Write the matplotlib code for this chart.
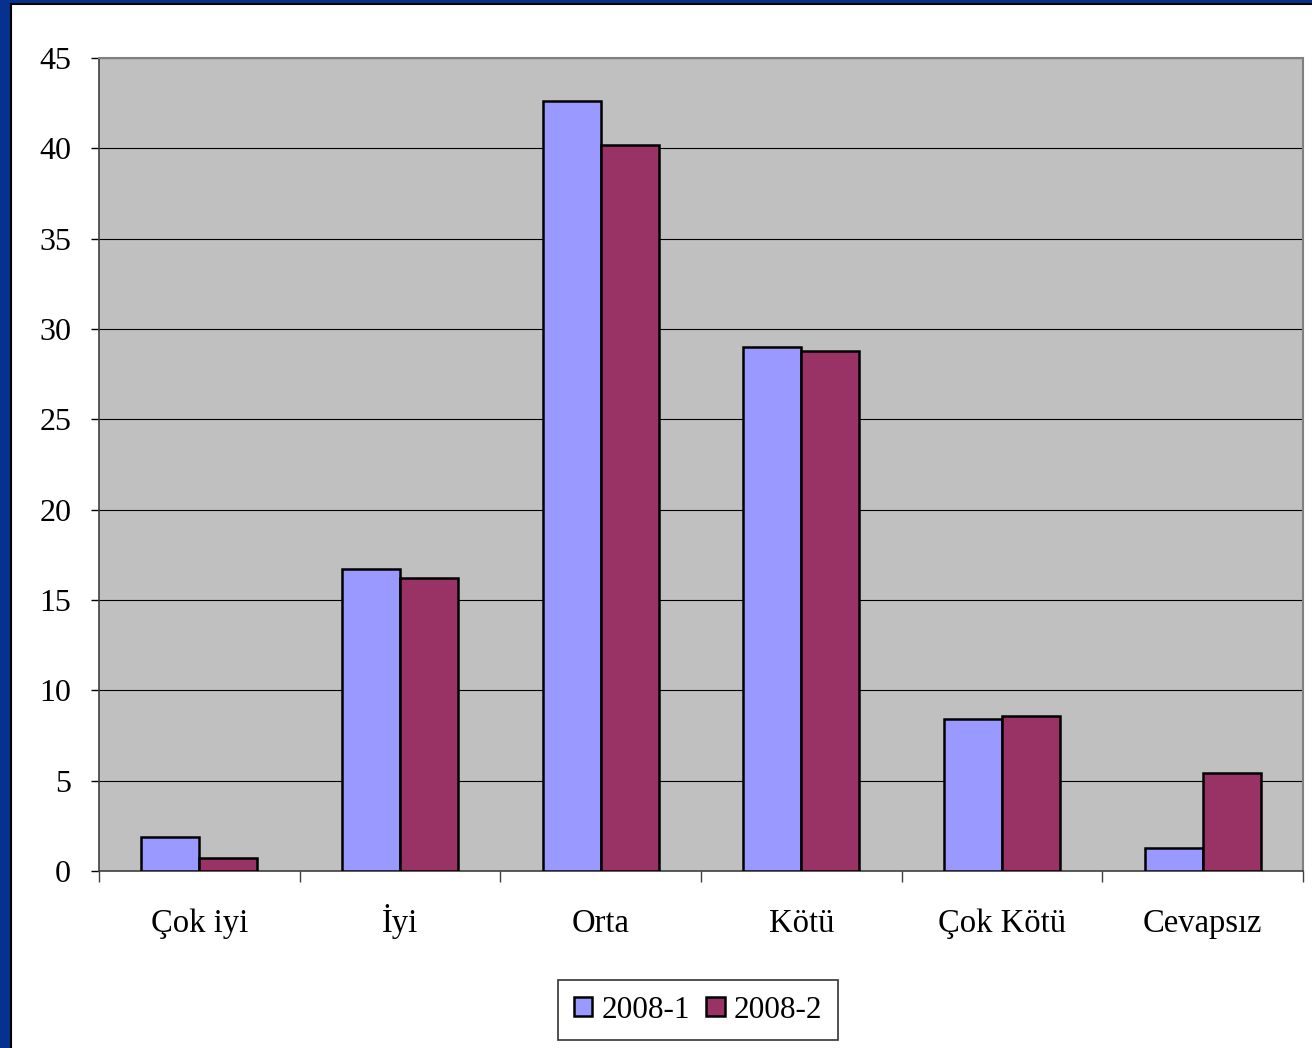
import matplotlib
matplotlib.use("Agg")
import matplotlib.pyplot as plt
import numpy as np

categories = ["Çok iyi", "İyi", "Orta", "Kötü", "Çok Kötü", "Cevapsız"]
series_names = ["2008-1", "2008-2"]
values_2008_1 = [1.9, 16.7, 42.6, 29.0, 8.4, 1.3]
values_2008_2 = [0.7, 16.2, 40.2, 28.8, 8.6, 5.4]
y_ticks = [0, 5, 10, 15, 20, 25, 30, 35, 40, 45]

W, H = 1312, 1048
plt.rcParams["font.family"] = ["Liberation Serif", "DejaVu Serif"]
fig = plt.figure(figsize=(W / 100, H / 100), dpi=100)
fig.patch.set_facecolor("#06318F")

# white chart frame (background axes)
bg = fig.add_axes([11 / W, -0.01, 1.0, 1 - 4 / H + 0.01], zorder=-5)
bg.set_facecolor("white")
bg.set_xticks([])
bg.set_yticks([])
for s in bg.spines.values():
    s.set_color("black")
    s.set_linewidth(1.5)

ax = fig.add_axes([99 / W, 1 - 871 / H, (1303 - 99) / W, (871 - 58) / H], zorder=1)
ax.set_facecolor("#C0C0C0")

x = np.arange(len(categories))
bw = 0.289
ax.bar(x - bw / 2, values_2008_1, width=bw, color="#9999FF", edgecolor="black",
       linewidth=1.8, label=series_names[0], zorder=3)
ax.bar(x + bw / 2, values_2008_2, width=bw, color="#993366", edgecolor="black",
       linewidth=1.8, label=series_names[1], zorder=3)

ax.set_xlim(-0.5, len(categories) - 0.5)
ax.set_ylim(0, 45)
ax.set_yticks(y_ticks)
ax.set_yticklabels([str(t) for t in y_ticks])
ax.yaxis.grid(True, color="black", linewidth=0.8, zorder=1)
ax.set_axisbelow(True)

ax.set_xticks(x)
ax.set_xticklabels(categories)
ax.set_xticks(np.arange(len(categories) + 1) - 0.5, minor=True)
ax.tick_params(axis="x", which="major", length=0, pad=44, labelsize=23.5)
ax.tick_params(axis="x", which="minor", length=8, width=1, color="#404040")
ax.tick_params(axis="y", length=6, width=1, pad=14, labelsize=23)
for lab in ax.get_xticklabels():
    lab.set_verticalalignment("baseline")

for s in ["top", "right"]:
    ax.spines[s].set_color("#808080")
    ax.spines[s].set_linewidth(1.5)
ax.spines["left"].set_color("#404040")
ax.spines["bottom"].set_color("#404040")
ax.spines["left"].set_linewidth(1.2)
ax.spines["bottom"].set_linewidth(1.2)

leg = ax.legend(loc="center", bbox_to_anchor=(698 / W, 1 - 1010 / H),
                bbox_transform=fig.transFigure, ncol=2, frameon=True, fancybox=False,
                fontsize=22.5, handlelength=0.6, handleheight=0.6, handletextpad=0.3,
                columnspacing=0.5, borderpad=0.5, borderaxespad=0)
leg.get_frame().set_edgecolor("black")
leg.get_frame().set_linewidth(1.2)

fig.savefig("out.png", dpi=100, facecolor=fig.get_facecolor())
